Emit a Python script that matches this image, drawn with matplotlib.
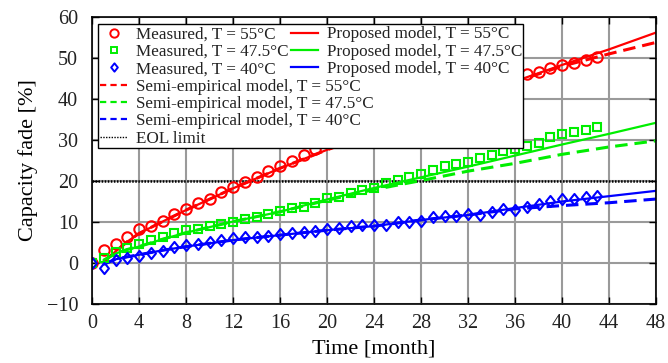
import matplotlib
matplotlib.use("Agg")
import matplotlib.pyplot as plt
from matplotlib.patches import Rectangle
from matplotlib.lines import Line2D
from matplotlib.path import Path

plt.rcParams['font.family'] = ['Liberation Serif', 'DejaVu Serif']
plt.rcParams['lines.scale_dashes'] = False
plt.rcParams['text.color'] = '#222222'
plt.rcParams['xtick.labelcolor'] = '#222222'
plt.rcParams['ytick.labelcolor'] = '#222222'

# Measured capacity fade (monthly)
t_meas = list(range(0, 44))
meas_55 = [0, 3.2, 4.6, 6.3, 8.2, 9.0, 10.3, 12.0, 13.1, 14.6, 15.5, 17.4, 18.5,
           19.8, 21.0, 22.5, 23.7, 25.0, 26.3, 27.8, 29.5, 30.6, 31.5, 32.8, 33.6,
           35.0, 36.0, 36.8, 37.5, 39.0, 40.0, 40.5, 41.2, 42.3, 43.0, 44.2, 44.7,
           46.0, 46.7, 47.5, 48.3, 48.9, 49.5, 50.2]
meas_475 = [0, 1.1, 2.8, 3.6, 4.6, 5.6, 6.3, 7.2, 8.0, 8.4, 9.0, 9.5, 10.1, 10.7,
            11.1, 11.9, 12.7, 13.3, 13.7, 14.6, 15.8, 16.2, 17.1, 17.8, 18.4,
            19.4, 20.2, 20.9, 21.7, 22.7, 23.7, 24.1, 24.7, 25.7, 26.3, 27.4,
            27.7, 28.6, 29.3, 30.7, 31.4, 31.9, 32.4, 33.2]
meas_40 = [0, -1.3, 0.7, 1.1, 1.7, 2.4, 3.0, 4.0, 4.4, 4.6, 5.2, 5.6, 6.0, 6.3,
           6.3, 6.6, 7.1, 7.4, 7.6, 7.9, 8.2, 8.5, 9.0, 9.2, 9.3, 9.3, 10.1, 10.1,
           10.3, 11.1, 11.5, 11.5, 11.9, 11.7, 12.5, 13.1, 12.9, 13.6, 14.4,
           15.2, 15.5, 15.5, 16.0, 16.4]

# Model curves
t_model = [1, 2, 3, 4, 6, 8, 12, 16, 20, 24, 28, 32, 36, 40, 44, 48]
prop_55 = [0.3, 2.8, 5.2, 7.2, 10.1, 12.9, 18.2, 23.1, 27.6, 31.7, 36.3, 40.5,
           44.3, 48.3, 52.1, 56.2]
semi_55 = [0.3, 2.8, 5.2, 7.2, 10.1, 12.9, 18.2, 23.1, 27.6, 31.7, 36.3, 40.5,
           44.2, 48.0, 51.0, 53.8]
prop_475 = [0.7, 2.3, 3.3, 4.0, 5.8, 7.4, 10.1, 12.5, 15.5, 18.3, 20.9, 23.5,
            26.2, 28.9, 31.5, 34.2]
semi_475 = [0.7, 2.3, 3.3, 4.0, 5.8, 7.4, 10.1, 12.5, 15.3, 17.9, 20.1, 22.4,
            24.3, 26.5, 28.3, 29.8]
prop_40 = [-0.3, 0.9, 1.5, 2.0, 3.1, 4.0, 5.6, 6.8, 8.0, 9.0, 10.5, 11.7, 13.4,
           15.0, 16.3, 17.6]
semi_40 = [-0.3, 0.9, 1.5, 2.0, 3.1, 4.0, 5.6, 6.8, 8.0, 9.0, 10.5, 11.7, 13.2,
           14.0, 14.7, 15.6]
eol_limit = 20

temps = ['55°C', '47.5°C', '40°C']
colors = ['#ff0000', '#00ee00', '#0000ff']

x_ticks = list(range(0, 49, 4))
y_ticks = list(range(-10, 61, 10))

diamond = Path([(0, 1), (0.8, 0), (0, -1), (-0.8, 0), (0, 1)],
               [Path.MOVETO, Path.LINETO, Path.LINETO, Path.LINETO, Path.CLOSEPOLY])

fig = plt.figure(figsize=(6.68, 3.63), dpi=100)
ax = fig.add_axes([92 / 668, 1 - 304 / 363, (656 - 92) / 668, (304 - 17) / 363])

ax.grid(True, color='#9a9a9a', linewidth=1.5)
ax.set_axisbelow(True)

ax.axhline(eol_limit, color='black', linewidth=1.8, dashes=[1.1, 1.1])

sty = dict(linewidth=1.6)
dsty = dict(linewidth=2.2, dashes=[9, 5])
ax.plot(t_model, semi_55, color=colors[0], **dsty)
ax.plot(t_model, semi_475, color=colors[1], **dsty)
ax.plot(t_model, semi_40, color=colors[2], **dsty)
ax.plot(t_model, prop_55, color=colors[0], **sty)
ax.plot(t_model, prop_475, color=colors[1], **sty)
ax.plot(t_model, prop_40, color=colors[2], **sty)

mk = dict(linestyle='none', markerfacecolor='none', markeredgewidth=1.5)
ax.plot(t_meas, meas_55, marker='o', markersize=7.5, markeredgecolor=colors[0], **mk)
ax.plot(t_meas, meas_475, marker='s', markersize=6, markeredgecolor=colors[1], **mk)
ax.plot(t_meas, meas_40, marker=diamond, markersize=8, markeredgecolor=colors[2], **mk)

ax.set_xlim(0, 48)
ax.set_ylim(-10, 60)
ax.set_xticks(x_ticks)
ax.set_yticks(y_ticks)
ax.set_yticklabels([('\u2212' + str(-v)) if v < 0 else str(v) for v in y_ticks])
ax.tick_params(direction='in', length=5, width=1, top=True, right=True,
               labelsize=14.5, color='black')
ax.tick_params(axis='y', pad=10)
ax.tick_params(axis='x', pad=7)
for s in ax.spines.values():
    s.set_color('black')
    s.set_linewidth(1.2)

ax.set_xlabel('Time [month]', fontsize=16, labelpad=5)
ax.set_ylabel('Capacity fade [%]', fontsize=16, labelpad=6)

# Legend: frame + two columns
def px2ax(x, y):
    return ((x - 92) / (656 - 92), (304 - y) / (304 - 17))

x0, y0 = px2ax(98, 148)
x1, y1 = px2ax(523, 24)
ax.add_patch(Rectangle((x0, y0), x1 - x0, y1 - y0, transform=ax.transAxes,
                       facecolor='white', edgecolor='black', linewidth=1.0,
                       zorder=5))

lmk = dict(linestyle='none', markerfacecolor='none', markeredgewidth=1.4)
h1 = [Line2D([], [], marker='o', markersize=6, markeredgecolor=colors[0], **lmk),
      Line2D([], [], marker='s', markersize=5, markeredgecolor=colors[1], **lmk),
      Line2D([], [], marker=diamond, markersize=6, markeredgecolor=colors[2], **lmk),
      Line2D([], [], color=colors[0], linewidth=1.6, dashes=[4.5, 3]),
      Line2D([], [], color=colors[1], linewidth=1.6, dashes=[4.5, 3]),
      Line2D([], [], color=colors[2], linewidth=1.6, dashes=[4.5, 3]),
      Line2D([], [], color='black', linewidth=1.0, dashes=[1, 1])]
l1 = ['Measured, T = ' + t for t in temps] + \
     ['Semi-empirical model, T = ' + t for t in temps] + ['EOL limit']
h2 = [Line2D([], [], color=c, linewidth=1.6) for c in colors]
l2 = ['Proposed model, T = ' + t for t in temps]

lx, ly = px2ax(100, 26.5)
leg1 = ax.legend(h1, l1, loc='upper left', bbox_to_anchor=(lx, ly),
                 frameon=False, fontsize=12.3, handlelength=1.6, handletextpad=0.5,
                 labelspacing=0.08, borderpad=0, borderaxespad=0, numpoints=1)
leg1.set_zorder(6)
ax.add_artist(leg1)
lx2, _ = px2ax(291, 26.5)
leg2 = ax.legend(h2, l2, loc='upper left', bbox_to_anchor=(lx2, ly),
                 frameon=False, fontsize=12.3, handlelength=1.6, handletextpad=0.5,
                 labelspacing=0.08, borderpad=0, borderaxespad=0)
leg2.set_zorder(6)

fig.savefig('out.png', dpi=100)
